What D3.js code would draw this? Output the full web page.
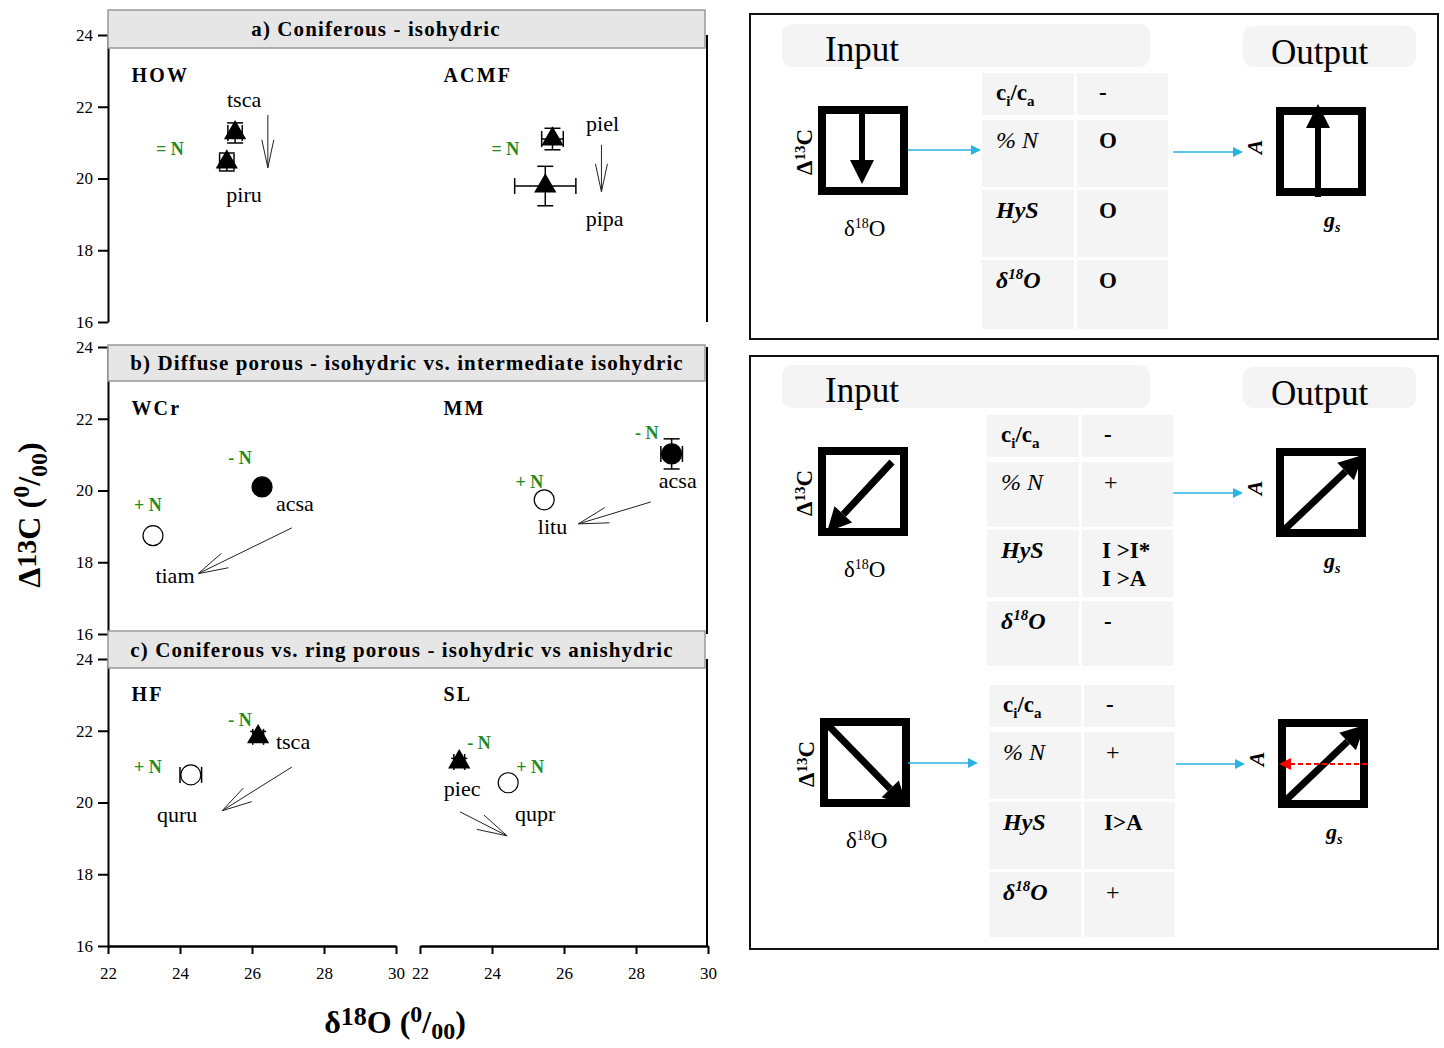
<!DOCTYPE html>
<html>
<head>
<meta charset="utf-8">
<script src="https://cdn.jsdelivr.net/npm/d3@7"></script>
<style>
  body { margin: 0; background: #fff; }
  svg { display: block; font-family: "Liberation Serif", "DejaVu Serif", serif; }
</style>
</head>
<body>
<svg id="chart" width="1444" height="1048"></svg>
<script>
// ---- data ----
const xTicks = [22, 24, 26, 28, 30];
const yTicks = [16, 18, 20, 22, 24];
const panelTitles = [
  "a) Coniferous - isohydric",
  "b) Diffuse porous - isohydric vs. intermediate isohydric",
  "c) Coniferous vs. ring porous - isohydric vs anishydric"
];
const siteNames = [["HOW", "ACMF"], ["WCr", "MM"], ["HF", "SL"]];

// side: 0 = left site, 1 = right site
const pointsA = [
  { side: 0, sp: "tsca", x: 25.53, y: 21.27, ex: 0.2, ey: 0.28, shape: "tri" },
  { side: 0, sp: "piru", x: 25.30, y: 20.46, ex: 0.2, ey: 0.25, shape: "tri" },
  { side: 1, sp: "piel", x: 25.68, y: 21.10, ex: 0.3, ey: 0.30, shape: "tri" },
  { side: 1, sp: "pipa", x: 25.48, y: 19.79, ex: 0.85, ey: 0.55, shape: "tri" }
];
const pointsB = [
  { side: 0, sp: "tiam", x: 23.25, y: 18.74, ex: 0, ey: 0, shape: "open" },
  { side: 0, sp: "acsa", x: 26.28, y: 20.10, ex: 0.1, ey: 0.1, shape: "fill" },
  { side: 1, sp: "litu", x: 25.45, y: 19.74, ex: 0.15, ey: 0, shape: "open" },
  { side: 1, sp: "acsa", x: 28.99, y: 21.02, ex: 0.3, ey: 0.42, shape: "fill" }
];
const pointsC = [
  { side: 0, sp: "tsca", x: 26.17, y: 21.83, ex: 0.15, ey: 0.15, shape: "tri" },
  { side: 0, sp: "quru", x: 24.30, y: 20.77, ex: 0.3, ey: 0.1, shape: "open" },
  { side: 1, sp: "piec", x: 23.09, y: 21.13, ex: 0.15, ey: 0.1, shape: "tri" },
  { side: 1, sp: "qupr", x: 24.45, y: 20.55, ex: 0, ey: 0, shape: "open" }
];

// text annotations in data units [side, x, y, text, kind]
const labelsA = [
  [0, 25.78, 22.19, "tsca", "sp"], [0, 25.78, 19.54, "piru", "sp"], [0, 23.72, 20.85, "= N", "n"],
  [1, 27.07, 21.52, "piel", "sp"], [1, 27.13, 18.87, "pipa", "sp"], [1, 24.37, 20.85, "= N", "n"]
];
const labelsB = [
  [0, 25.67, 20.94, "- N", "n"], [0, 23.11, 19.63, "+ N", "n"], [0, 27.19, 19.63, "acsa", "sp"], [0, 23.86, 17.62, "tiam", "sp"],
  [1, 28.30, 21.63, "- N", "n"], [1, 25.04, 20.27, "+ N", "n"], [1, 29.16, 20.27, "acsa", "sp"], [1, 25.68, 18.99, "litu", "sp"]
];
const labelsC = [
  [0, 25.67, 22.33, "- N", "n"], [0, 27.14, 21.69, "tsca", "sp"], [0, 23.11, 21.02, "+ N", "n"], [0, 23.92, 19.65, "quru", "sp"],
  [1, 23.64, 21.69, "- N", "n"], [1, 25.06, 21.02, "+ N", "n"], [1, 23.17, 20.38, "piec", "sp"], [1, 25.20, 19.68, "qupr", "sp"]
];
const siteLabelY = [22.89, 22.3, 23.03];
// shift arrows [side, x1, y1, x2, y2]
const arrowsA = [[0, 26.44, 21.77, 26.44, 20.30], [1, 27.04, 20.94, 27.04, 19.63]];
const arrowsB = [[0, 27.11, 18.96, 24.50, 17.68], [1, 28.41, 19.68, 26.40, 19.07]];
const arrowsC = [[0, 27.11, 20.99, 25.17, 19.77], [1, 23.11, 19.74, 24.42, 19.07]];

// conceptual model tables
const rowLabels = ["ci/ca", "% N", "HyS", "d18O"];
const scenario1 = ["-", "O", "O", "O"];
const scenario2 = ["-", "+", "I >I*|I >A", "-"];
const scenario3 = ["-", "+", "I>A", "+"];

// ---- layout ----
const svg = d3.select("#chart");
const green = "#228b22";
const panelY = [[322, 35], [634, 347], [946, 659]];
const titleY = [[10, 48], [345, 381], [631, 668]];
const titleX = [376, 407, 402];
const xLeft = d3.scaleLinear().domain([22, 30]).range([108, 396]);
const xRight = d3.scaleLinear().domain([22, 30]).range([420, 708]);
const xs = [xLeft, xRight];

const allPoints = [pointsA, pointsB, pointsC];
const allLabels = [labelsA, labelsB, labelsC];
const allArrows = [arrowsA, arrowsB, arrowsC];

function openArrow(g, x1, y1, x2, y2, len, half) {
  const a = Math.atan2(y2 - y1, x2 - x1);
  const bx = x2 - len * Math.cos(a), by = y2 - len * Math.sin(a);
  const nx = -Math.sin(a) * half, ny = Math.cos(a) * half;
  g.append("path")
    .attr("d", `M${x1},${y1}L${x2},${y2}M${bx + nx},${by + ny}L${x2},${y2}L${bx - nx},${by - ny}`)
    .attr("fill", "none").attr("stroke", "#222").attr("stroke-width", 1);
}

panelTitles.forEach((title, i) => {
  const y = d3.scaleLinear().domain([16, 24]).range(panelY[i]);
  const g = svg.append("g");

  g.append("g").attr("transform", "translate(108,0)")
    .call(d3.axisLeft(y).tickValues(yTicks).tickSize(10).tickPadding(5).tickSizeOuter(0))
    .call(a => a.select(".domain").attr("stroke-width", 2))
    .call(a => a.selectAll(".tick line").attr("stroke-width", 2))
    .call(a => a.selectAll("text").attr("font-size", 17).attr("font-family", "Liberation Serif"));

  g.append("line").attr("x1", 707).attr("x2", 707)
    .attr("y1", y(24)).attr("y2", y(16)).attr("stroke", "#000").attr("stroke-width", 2);

  if (i === 2) {
    xs.forEach(x => {
      g.append("g").attr("transform", `translate(0,${y(16)})`)
        .call(d3.axisBottom(x).tickValues(xTicks).tickSize(8).tickPadding(13).tickSizeOuter(0))
        .call(a => a.select(".domain").attr("stroke-width", 2.5))
        .call(a => a.selectAll(".tick line").attr("stroke-width", 2))
        .call(a => a.selectAll("text").attr("font-size", 17).attr("font-family", "Liberation Serif"));
    });
  }

  // title box
  g.append("rect").attr("x", 108).attr("y", titleY[i][0])
    .attr("width", 597).attr("height", titleY[i][1] - titleY[i][0])
    .attr("fill", "#e6e6e6").attr("stroke", "#999").attr("stroke-width", 1.5);
  g.append("text").attr("x", titleX[i]).attr("y", (titleY[i][0] + titleY[i][1]) / 2 + 7)
    .attr("text-anchor", "middle").attr("font-size", 21).attr("font-weight", "bold")
    .attr("letter-spacing", 1.1).text(title);

  siteNames[i].forEach((s, k) => {
    g.append("text").attr("x", xs[k](22.65)).attr("y", y(siteLabelY[i]) + 7)
      .attr("font-size", 20).attr("font-weight", "bold").attr("letter-spacing", 2.2).text(s);
  });

  allArrows[i].forEach(([k, x1, y1, x2, y2]) => {
    const len = Math.abs(x2 - x1) < 0.01 ? 28 : 30;
    openArrow(g, xs[k](x1), y(y1), xs[k](x2), y(y2), len, len === 28 ? 6 : 8);
  });

  allPoints[i].forEach(p => {
    const x = xs[p.side];
    const cx = x(p.x), cy = y(p.y);
    const eb = g.append("g").attr("stroke", "#000").attr("stroke-width", 1.5);
    if (p.ey > 0) {
      eb.append("line").attr("x1", cx).attr("x2", cx).attr("y1", y(p.y - p.ey)).attr("y2", y(p.y + p.ey));
      [p.y - p.ey, p.y + p.ey].forEach(v => eb.append("line")
        .attr("x1", cx - 8).attr("x2", cx + 8).attr("y1", y(v)).attr("y2", y(v)));
    }
    if (p.ex > 0) {
      eb.append("line").attr("y1", cy).attr("y2", cy).attr("x1", x(p.x - p.ex)).attr("x2", x(p.x + p.ex));
      [p.x - p.ex, p.x + p.ex].forEach(v => eb.append("line")
        .attr("y1", cy - 8).attr("y2", cy + 8).attr("x1", x(v)).attr("x2", x(v)));
    }
    if (p.shape === "tri") {
      g.append("path").attr("d", d3.symbol(d3.symbolTriangle, 215)())
        .attr("transform", `translate(${cx},${cy})`).attr("fill", "#000");
    } else {
      g.append("circle").attr("cx", cx).attr("cy", cy).attr("r", 10)
        .attr("fill", p.shape === "fill" ? "#000" : "#fff")
        .attr("stroke", "#000").attr("stroke-width", 1.2);
    }
  });

  allLabels[i].forEach(([k, lx, ly, t, kind]) => {
    const txt = g.append("text").attr("x", xs[k](lx)).attr("y", y(ly) + 7)
      .attr("text-anchor", "middle").text(t);
    if (kind === "n") txt.attr("fill", green).attr("font-weight", "bold").attr("font-size", 18);
    else txt.attr("font-size", 22);
  });
});

// axis titles
svg.append("text").attr("transform", "translate(40,515) rotate(-90)")
  .attr("text-anchor", "middle").attr("font-size", 32).attr("font-weight", "bold")
  .call(t => {
    t.append("tspan").text("\u0394");
    t.append("tspan").attr("dy", -4).attr("font-size", 28).text("13");
    t.append("tspan").attr("dy", 4).text("C (");
    t.append("tspan").attr("dy", -11).attr("font-size", 24).text("0");
    t.append("tspan").attr("dy", 11).text("/");
    t.append("tspan").attr("dy", 7).attr("font-size", 24).text("00");
    t.append("tspan").attr("dy", -7).text(")");
  });
svg.append("text").attr("x", 395).attr("y", 1033)
  .attr("text-anchor", "middle").attr("font-size", 32).attr("font-weight", "bold")
  .call(t => {
    t.append("tspan").text("\u03b4");
    t.append("tspan").attr("dy", -8).attr("font-size", 26).text("18");
    t.append("tspan").attr("dy", 8).text("O (");
    t.append("tspan").attr("dy", -11).attr("font-size", 24).text("0");
    t.append("tspan").attr("dy", 11).text("/");
    t.append("tspan").attr("dy", 6).attr("font-size", 24).text("00");
    t.append("tspan").attr("dy", -6).text(")");
  });

// ---- conceptual diagrams ----
const blue = "#29b3e3";
function thickArrow(g, x1, y1, x2, y2, w, hl, hw, color) {
  const a = Math.atan2(y2 - y1, x2 - x1);
  const bx = x2 - hl * Math.cos(a), by = y2 - hl * Math.sin(a);
  const nx = -Math.sin(a), ny = Math.cos(a);
  g.append("line").attr("x1", x1).attr("y1", y1).attr("x2", bx).attr("y2", by)
    .attr("stroke", color).attr("stroke-width", w);
  g.append("path").attr("d", `M${x2},${y2}L${bx + nx * hw},${by + ny * hw}L${bx - nx * hw},${by - ny * hw}Z`)
    .attr("fill", color);
}
function rowText(g, x, y, label) {
  if (label === "ci/ca") {
    const t = g.append("text").attr("x", x).attr("y", y).attr("font-size", 23).attr("font-weight", "bold");
    t.append("tspan").text("c");
    t.append("tspan").attr("dy", 6).attr("font-size", 15).text("i");
    t.append("tspan").attr("dy", -6).text("/c");
    t.append("tspan").attr("dy", 6).attr("font-size", 15).text("a");
  } else if (label === "d18O") {
    const t = g.append("text").attr("x", x).attr("y", y).attr("font-size", 24)
      .attr("font-style", "italic").attr("font-weight", "bold");
    t.append("tspan").text("\u03b4");
    t.append("tspan").attr("dy", -9).attr("font-size", 15).text("18");
    t.append("tspan").attr("dy", 9).text("O");
  } else {
    g.append("text").attr("x", x).attr("y", y).attr("font-size", 24)
      .attr("font-style", "italic").attr("font-weight", label === "HyS" ? "bold" : "normal").text(label);
  }
}
function table(g, x0, rows, vals) {
  const c1 = 92, c2 = 91, gap = 3;
  rows.forEach((r, i) => {
    g.append("rect").attr("x", x0).attr("y", r[0]).attr("width", c1).attr("height", r[1] - r[0]).attr("fill", "#f4f4f4");
    g.append("rect").attr("x", x0 + c1 + gap).attr("y", r[0]).attr("width", c2).attr("height", r[1] - r[0]).attr("fill", "#f4f4f4");
    const ty = i === 0 ? (r[0] + r[1]) / 2 + 6 : r[0] + 28;
    rowText(g, x0 + 14, ty, rowLabels[i]);
    vals[i].split("|").forEach((v, j) => {
      g.append("text").attr("x", x0 + c1 + gap + (v.length > 1 ? 20 : 22)).attr("y", ty + j * 28)
        .attr("font-size", v === "+" ? 24 : 23).attr("font-weight", v === "+" ? "normal" : "bold").text(v);
    });
  });
}
function miniBox(g, x, y, isInput) {
  g.append("rect").attr("x", x + 4).attr("y", y + 4).attr("width", 82).attr("height", 81)
    .attr("fill", "#fff").attr("stroke", "#000").attr("stroke-width", 8);
  if (isInput) {
    g.append("text").attr("transform", `translate(${x - 6},${y + 46}) rotate(-90)`)
      .attr("text-anchor", "middle").attr("font-size", 23).attr("font-weight", "bold")
      .call(t => {
        t.append("tspan").text("\u0394");
        t.append("tspan").attr("dy", -7).attr("font-size", 15).text("13");
        t.append("tspan").attr("dy", 7).text("C");
      });
    const t = g.append("text").attr("x", x + 26).attr("y", y + 130).attr("font-size", 23);
    t.append("tspan").text("\u03b4");
    t.append("tspan").attr("dy", -8).attr("font-size", 14).text("18");
    t.append("tspan").attr("dy", 8).text("O");
  } else {
    g.append("text").attr("transform", `translate(${x - 14},${y + 40}) rotate(-90)`)
      .attr("text-anchor", "middle").attr("font-size", 22).attr("font-weight", "bold")
      .attr("font-style", "italic").text("A");
    const t = g.append("text").attr("x", x + 48).attr("y", y + 120).attr("font-size", 22)
      .attr("font-weight", "bold").attr("font-style", "italic");
    t.append("tspan").text("g");
    t.append("tspan").attr("dy", 5).attr("font-size", 14).text("s");
  }
}
function header(g, top) {
  g.append("rect").attr("x", 782).attr("y", top).attr("width", 368).attr("height", 43)
    .attr("rx", 10).attr("fill", "#f4f4f4");
  g.append("rect").attr("x", 1243).attr("y", top + 2).attr("width", 173).attr("height", 41)
    .attr("rx", 10).attr("fill", "#f4f4f4");
  g.append("text").attr("x", 825).attr("y", top + 37).attr("font-size", 35).text("Input");
  g.append("text").attr("x", 1271).attr("y", top + 40).attr("font-size", 35).text("Output");
}

const dg = svg.append("g");
// frame 1
dg.append("rect").attr("x", 750).attr("y", 14).attr("width", 688).attr("height", 325)
  .attr("fill", "none").attr("stroke", "#111").attr("stroke-width", 2);
header(dg, 24);
table(dg, 982, [[73, 115], [120, 187], [190, 257], [260, 329]], scenario1);
miniBox(dg, 818, 106, true);
thickArrow(dg, 862, 112, 862, 184, 6, 24, 12, "#000");
thickArrow(dg, 908, 150, 981, 150, 1.5, 10, 5, blue);
thickArrow(dg, 1173, 152, 1243, 152, 1.5, 10, 5, blue);
miniBox(dg, 1276, 107, false);
thickArrow(dg, 1318, 197, 1318, 104, 6, 24, 12, "#000");

// frame 2
dg.append("rect").attr("x", 750).attr("y", 356).attr("width", 688).attr("height", 593)
  .attr("fill", "none").attr("stroke", "#111").attr("stroke-width", 2);
header(dg, 365);
table(dg, 987, [[415, 457], [462, 527], [530, 597], [601, 666]], scenario2);
miniBox(dg, 818, 447, true);
thickArrow(dg, 892, 462, 827, 532, 7, 24, 12, "#000");
thickArrow(dg, 1173, 493, 1243, 493, 1.5, 10, 5, blue);
miniBox(dg, 1276, 448, false);
thickArrow(dg, 1283, 531, 1363, 455, 7, 24, 12, "#000");

table(dg, 989, [[685, 727], [732, 799], [802, 869], [872, 937]], scenario3);
miniBox(dg, 820, 718, true);
thickArrow(dg, 826, 723, 907, 806, 7, 24, 12, "#000");
thickArrow(dg, 908, 763, 978, 763, 1.5, 10, 5, blue);
thickArrow(dg, 1176, 764, 1245, 764, 1.5, 10, 5, blue);
miniBox(dg, 1278, 719, false);
thickArrow(dg, 1284, 802, 1365, 725, 7, 24, 12, "#000");
dg.append("line").attr("x1", 1367).attr("y1", 764).attr("x2", 1290).attr("y2", 764)
  .attr("stroke", "red").attr("stroke-width", 2).attr("stroke-dasharray", "5,3");
dg.append("path").attr("d", "M1279,764L1291,758L1291,770Z").attr("fill", "red");
</script>
</body>
</html>
